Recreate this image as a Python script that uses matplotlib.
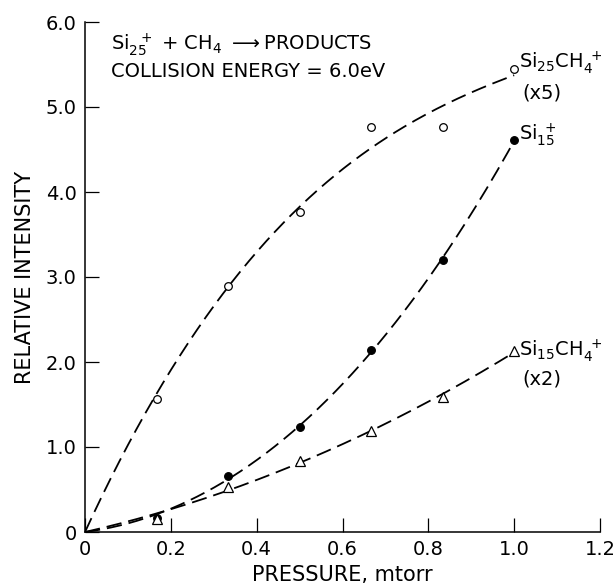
import numpy as np
import matplotlib
matplotlib.use("Agg")
import matplotlib.pyplot as plt

plt.rcParams['font.family'] = ['DejaVu Sans']
plt.rcParams['mathtext.fontset'] = 'dejavusans'
plt.rcParams['mathtext.default'] = 'regular'
plt.rcParams['lines.scale_dashes'] = False

# Data
pressure = [1/6, 1/3, 1/2, 2/3, 5/6, 1.0]
si25ch4_x5 = [1.57, 2.89, 3.77, 4.76, 4.77, 5.45]
si15 = [0.17, 0.66, 1.23, 2.14, 3.20, 4.61]
si15ch4_x2 = [0.15, 0.53, 0.835, 1.19, 1.59, 2.13]

xticks = [0, 0.2, 0.4, 0.6, 0.8, 1.0, 1.2]
xticklabels = ["0", "0.2", "0.4", "0.6", "0.8", "1.0", "1.2"]
yticks = [0, 1, 2, 3, 4, 5, 6]
yticklabels = ["0", "1.0", "2.0", "3.0", "4.0", "5.0", "6.0"]

fig = plt.figure(figsize=(6.16, 5.87), dpi=100)
ax = fig.add_axes([85/616, 1-532/587, 515/616, 510/587])

dash = (11, 5)
FS = 14


def fitcurve(xs, ys, deg=3):
    xa = np.array([0.0] + list(xs))
    ya = np.array([0.0] + list(ys))
    w = np.ones_like(xa)
    w[0] = 10
    p = np.polyfit(xa, ya, deg, w=w)
    xx = np.linspace(0, max(xs), 200)
    return xx, np.polyval(p, xx)

for ys, mk, fc, ms in [(si25ch4_x5, 'o', 'white', 5.5),
                       (si15, 'o', 'black', 5.5),
                       (si15ch4_x2, '^', 'white', 6.5)]:
    xx, yy = fitcurve(pressure, ys)
    ax.plot(xx, yy, color='black', lw=1.3, dashes=dash, zorder=2)
    ax.plot(pressure, ys, linestyle='none', marker=mk, mfc=fc, mec='black',
            mew=0.9, ms=ms, zorder=3)

ax.set_xlim(0, 1.2)
ax.set_ylim(0, 6.0)
ax.spines['top'].set_visible(False)
ax.spines['right'].set_visible(False)
ax.spines['left'].set_linewidth(1.1)
ax.spines['bottom'].set_linewidth(1.1)
ax.set_xticks(xticks)
ax.set_xticklabels(xticklabels)
ax.set_yticks(yticks)
ax.set_yticklabels(yticklabels)
ax.tick_params(direction='in', length=10, width=0.9, labelsize=FS, pad=6)

ax.set_xlabel("PRESSURE, mtorr", fontsize=15, labelpad=4)
ax.set_ylabel("RELATIVE INTENSITY", fontsize=15, labelpad=8)

ax.text(0.05, 0.945, r"Si$_{25}^{\ \ +}$ + CH$_4$ $\longrightarrow$PRODUCTS",
        transform=ax.transAxes, fontsize=FS, va='baseline')
ax.text(0.05, 0.892, "COLLISION ENERGY = 6.0eV",
        transform=ax.transAxes, fontsize=FS, va='baseline')

ax.text(1.012, 5.52, r"Si$_{25}$CH$_4^{\ +}$", fontsize=FS, va='center', ha='left')
ax.text(1.02, 5.17, "(x5)", fontsize=FS, va='center', ha='left')
ax.text(1.012, 4.67, r"Si$_{15}^{\ +}$", fontsize=FS, va='center', ha='left')
ax.text(1.012, 2.14, r"Si$_{15}$CH$_4^{\ +}$", fontsize=FS, va='center', ha='left')
ax.text(1.02, 1.80, "(x2)", fontsize=FS, va='center', ha='left')

fig.savefig("out.png", dpi=100)
